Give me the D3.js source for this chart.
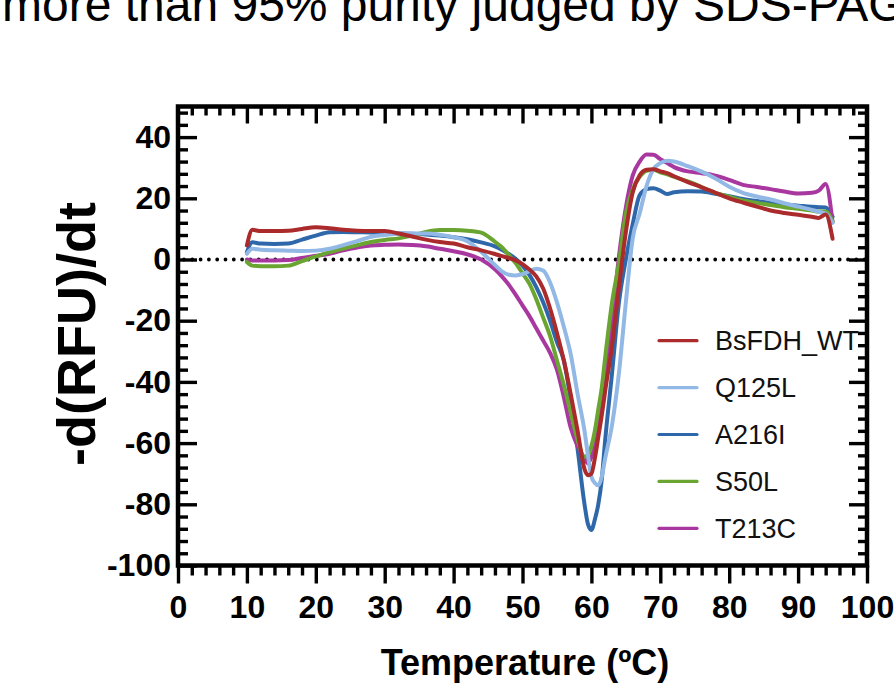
<!DOCTYPE html>
<html><head><meta charset="utf-8">
<script src="https://cdn.jsdelivr.net/npm/d3@7"></script>
<style>
html,body{margin:0;padding:0;background:#fff;}
svg{display:block;font-family:"Liberation Sans",Arial,Helvetica,sans-serif;}
</style></head>
<body><svg id="c" width="894" height="683"></svg>
<script>
// ---- data ----
const seriesNames = ["BsFDH_WT", "Q125L", "A216I", "S50L", "T213C"];
const seriesColors = ["#ab2a2b", "#92b8e5", "#2f68aa", "#6aa531", "#a8379f"];
const xTicks = [0,10,20,30,40,50,60,70,80,90,100];
const yTicks = [-100,-80,-60,-40,-20,0,20,40];
const temps = [10,10.8,12,14,16,18,20,22,24,26,28,30,32,34,36,38,40,42,44,46,47,48,49,50,51,52,53,54,55,56,57,58,59,59.5,60,60.5,61,61.5,62,63,64,65,66,67,68,69,70,71,72,74,76,78,80,82,84,86,88,90,92,93,94,95];
const wtValues = [4.6,9.7,9.3,9.3,9.4,10.0,10.5,10.2,9.7,9.4,9.3,9.3,8.5,7.5,6.5,5.7,5.2,4.0,3.0,1.8,1.1,0.5,-0.3,-1.5,-3.3,-5.5,-9.5,-16,-24,-33,-44,-56,-68.5,-70.5,-70,-65,-58,-51,-43,-28,-9,9,22,27.5,29.3,29.5,28.8,28.2,27.2,25.3,23.6,21.8,20,18.6,17.3,16,15.2,14.6,14,13.6,14.7,6.8];
const q125lValues = [1.9,3.5,3.2,3.0,2.9,2.8,2.9,3.5,4.7,6.0,7.4,8.0,8.4,8.5,8.5,8.1,7.3,6.0,2.5,-1.8,-3.9,-5.0,-5.2,-4.8,-3.8,-3.0,-3.6,-7.5,-14,-22,-31,-44,-56,-64,-71,-73,-73.8,-71,-65,-54,-37,-14,7,15,24,29.5,31.5,32.3,32,30.5,28.7,26.5,23.8,21.8,20.6,19.6,18.4,17.3,16.2,15.6,15,12];
const a216iValues = [2.4,5.6,5.2,5.1,5.2,6.5,7.8,8.9,9.0,8.9,8.8,8.6,8.5,8.4,8.2,7.8,7.3,6.6,5.6,4.3,3.2,1.8,0.2,-2,-5,-9,-14,-20,-27,-33,-46,-62,-80,-86.5,-88.4,-85,-80,-72,-59,-37,-14,0,11.6,21,23,23.3,22.5,21.4,22,22.3,22.2,21.5,20.7,19.8,19.1,18.5,18,17.6,17.2,17.1,17,14];
const s50lValues = [-0.8,-2.0,-2.2,-2.2,-2.0,-0.5,1.0,2.4,3.6,4.7,5.7,6.4,6.9,7.8,9.0,9.6,9.6,9.4,8.8,5.8,4.0,1.5,-1.2,-4.5,-7.9,-13,-19,-25,-33,-41,-50,-59,-64.5,-64,-61,-56,-49,-42,-32,-14,-1,15,23,27,29,29.3,28.5,27.8,27,25.5,23.7,21.8,20.5,19.3,18.5,17.8,17.1,16.6,16,15.7,15.7,12.5];
const t213cValues = [0,-0.3,-0.3,-0.3,-0.2,0.5,1.2,1.9,3.0,3.9,4.6,4.8,4.9,4.7,4.3,3.5,2.7,1.7,0,-3.2,-5.5,-8.2,-11.5,-15,-18.5,-22.5,-26.5,-30.5,-36,-45,-55,-61,-65,-66.6,-64.5,-61,-54,-46,-36,-20,1,17,27.5,32,34.3,34.2,32.8,31.5,30.2,28.8,28.2,27.4,26,24.4,23.7,23,22.2,21.6,21.8,22.5,24.7,12.2];
const allValues = [wtValues, q125lValues, a216iValues, s50lValues, t213cValues];
const drawOrder = [2, 4, 3, 1, 0];

// ---- layout ----
const svg = d3.select("#c");
const x = d3.scaleLinear().domain([0,100]).range([178,867]);
const y = d3.scaleLinear().domain([-100,50]).range([565.5,106.5]);
const L = x.range()[0], R = x.range()[1], B = y.range()[0], T = y.range()[1];
const fmt = d => String(d);

// top cut-off text
svg.append("text").attr("x",2).attr("y",21).attr("font-size",48)
  .attr("fill","#000").text("more than 95% purity judged by SDS-PAGE");

// zero dotted line
svg.append("line").attr("x1",L+6).attr("x2",R).attr("y1",y(0)).attr("y2",y(0))
  .attr("stroke","#000").attr("stroke-width",3.8).attr("stroke-linecap","round")
  .attr("stroke-dasharray","0,8.3");

// curves
const line = d3.line().x((d,i)=>x(temps[i])).y(d=>y(d)).curve(d3.curveMonotoneX);
drawOrder.forEach(k=>{
  svg.append("path").datum(allValues[k]).attr("d",line)
    .attr("fill","none").attr("stroke",seriesColors[k]).attr("stroke-width",4)
    .attr("stroke-linejoin","round").attr("stroke-linecap","round");
});

// axes
const xMinor = d3.range(0,101,2).filter(v=>v%10!==0);
const yMinor = d3.range(-100,51,4).filter(v=>v%20!==0);
function styleAxis(g){
  g.select(".domain").remove();
  g.selectAll(".tick line").attr("stroke","#000").attr("stroke-width",3.4);
}
function styleLabels(g){
  g.selectAll("text").attr("font-size",32).attr("font-weight","bold").attr("fill","#000")
    .attr("font-family","Liberation Sans, Arial, sans-serif");
}
// bottom
svg.append("g").attr("transform",`translate(0,${B})`)
  .call(d3.axisBottom(x).tickValues(xTicks).tickSize(18).tickPadding(12).tickFormat(fmt))
  .call(styleAxis).call(styleLabels);
svg.append("g").attr("transform",`translate(0,${B})`)
  .call(d3.axisBottom(x).tickValues(xMinor).tickSize(10).tickFormat(""))
  .call(styleAxis);
// top
svg.append("g").attr("transform",`translate(0,${T})`)
  .call(d3.axisTop(x).tickValues(xTicks.filter(v=>v>0&&v<100)).tickSize(-17).tickFormat(""))
  .call(styleAxis);
svg.append("g").attr("transform",`translate(0,${T})`)
  .call(d3.axisTop(x).tickValues(xMinor).tickSize(-9).tickFormat(""))
  .call(styleAxis);
// left
svg.append("g").attr("transform",`translate(${L},0)`)
  .call(d3.axisLeft(y).tickValues(yTicks).tickSize(-19).tickPadding(7).tickFormat(fmt))
  .call(styleAxis).call(styleLabels);
svg.append("g").attr("transform",`translate(${L},0)`)
  .call(d3.axisLeft(y).tickValues(yMinor).tickSize(-10).tickFormat(""))
  .call(styleAxis);
// right
svg.append("g").attr("transform",`translate(${R},0)`)
  .call(d3.axisRight(y).tickValues(yTicks.filter(v=>v>-100)).tickSize(-18).tickFormat(""))
  .call(styleAxis);
svg.append("g").attr("transform",`translate(${R},0)`)
  .call(d3.axisRight(y).tickValues(yMinor).tickSize(-9).tickFormat(""))
  .call(styleAxis);

// frame
svg.append("rect").attr("x",L).attr("y",T).attr("width",R-L).attr("height",B-T)
  .attr("fill","none").attr("stroke","#000").attr("stroke-width",4.5);

// axis titles
svg.append("text").attr("x",525).attr("y",675).attr("text-anchor","middle")
  .attr("font-size",36).attr("font-weight","bold").attr("fill","#000").text("Temperature (ºC)");
svg.append("text").attr("transform","translate(76,334) rotate(-90)").attr("text-anchor","middle")
  .attr("dominant-baseline","central")
  .attr("font-size",54).attr("font-weight","bold").attr("fill","#000").text("-d(RFU)/dt");

// legend
const lg = svg.append("g");
seriesNames.forEach((n,i)=>{
  const yy = 340.7 + i*46.9;
  lg.append("line").attr("x1",659).attr("x2",697).attr("y1",yy).attr("y2",yy)
    .attr("stroke",seriesColors[i]).attr("stroke-width",3.2).attr("stroke-linecap","round");
  lg.append("text").attr("x",715).attr("y",yy+9.6).attr("font-size",27).attr("fill","#111").text(n);
});
</script></body></html>
